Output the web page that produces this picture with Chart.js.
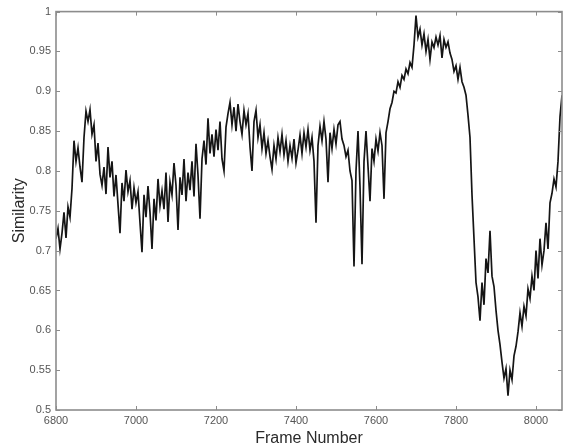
<!DOCTYPE html>
<html>
<head>
<meta charset="utf-8">
<script src="https://cdn.jsdelivr.net/npm/chart.js@4/dist/chart.umd.min.js"></script>
<style>
  html, body { margin: 0; padding: 0; background: #ffffff; }
  #wrap { width: 564px; height: 448px; }
</style>
</head>
<body>
<div id="wrap"><canvas id="c" width="564" height="448"></canvas></div>
<script>
// Sampling grid of the series (frame numbers)
const startFrame = 6800;
const frameStep = 5;

// Similarity values, one per sample
const similarity = [
  0.715,0.728,0.702,0.722,0.748,0.716,0.755,0.742,0.778,0.838,
  0.812,0.829,0.805,0.786,0.842,0.875,0.862,0.877,0.846,0.858,
  0.812,0.835,0.796,0.782,0.805,0.771,0.830,0.792,0.812,0.768,
  0.795,0.758,0.722,0.785,0.762,0.801,0.774,0.788,0.752,0.779,
  0.760,0.774,0.735,0.698,0.770,0.742,0.781,0.748,0.702,0.765,
  0.738,0.790,0.756,0.775,0.752,0.798,0.736,0.786,0.770,0.810,
  0.782,0.726,0.792,0.770,0.815,0.762,0.798,0.776,0.812,0.768,
  0.834,0.795,0.740,0.815,0.838,0.808,0.866,0.822,0.846,0.818,
  0.852,0.826,0.862,0.815,0.800,0.855,0.872,0.886,0.858,0.880,
  0.850,0.884,0.862,0.846,0.876,0.858,0.872,0.830,0.800,0.862,
  0.876,0.842,0.858,0.828,0.848,0.822,0.838,0.818,0.802,0.832,
  0.815,0.842,0.824,0.846,0.820,0.838,0.812,0.832,0.816,0.840,
  0.810,0.826,0.845,0.822,0.848,0.830,0.852,0.826,0.842,0.812,
  0.735,0.832,0.856,0.838,0.862,0.840,0.786,0.848,0.828,0.852,
  0.834,0.858,0.862,0.840,0.832,0.818,0.826,0.800,0.788,0.680,
  0.800,0.850,0.780,0.683,0.812,0.850,0.806,0.762,0.828,0.812,
  0.840,0.825,0.848,0.832,0.765,0.848,0.862,0.878,0.886,0.900,
  0.898,0.912,0.905,0.920,0.915,0.928,0.922,0.936,0.930,0.958,
  0.995,0.968,0.978,0.958,0.972,0.950,0.965,0.940,0.962,0.955,
  0.968,0.958,0.970,0.942,0.965,0.955,0.962,0.948,0.940,0.925,
  0.932,0.915,0.930,0.912,0.905,0.895,0.870,0.842,0.770,0.715,
  0.660,0.642,0.612,0.660,0.632,0.690,0.672,0.725,0.668,0.655,
  0.625,0.600,0.582,0.560,0.540,0.552,0.518,0.550,0.538,0.568,
  0.580,0.598,0.622,0.605,0.630,0.618,0.652,0.640,0.668,0.650,
  0.700,0.665,0.715,0.682,0.700,0.735,0.702,0.760,0.772,0.790,
  0.780,0.812,0.868,0.895
];

// Axis settings and labels
const xMin = 6800, xMax = 8065, xTickStep = 200;
const yMin = 0.5, yMax = 1, yTickStep = 0.05;
const xTitle = 'Frame Number';
const yTitle = 'Similarity';

const points = similarity.map((v, i) => ({ x: startFrame + i * frameStep, y: v }));

const boxColor = '#8c8c8c';

// Draw the MATLAB-style box and inward ticks using the chart's own scales
const boxPlugin = {
  id: 'boxTicks',
  afterDraw(chart) {
    const { ctx, chartArea: a, scales } = chart;
    const len = 4;
    ctx.save();
    ctx.strokeStyle = boxColor;
    ctx.lineWidth = 1;
    ctx.beginPath();
    scales.x.ticks.forEach(t => {
      const px = Math.round(scales.x.getPixelForValue(t.value)) + 0.5;
      ctx.moveTo(px, a.bottom); ctx.lineTo(px, a.bottom - len);
      ctx.moveTo(px, a.top); ctx.lineTo(px, a.top + len);
    });
    scales.y.ticks.forEach(t => {
      const py = Math.round(scales.y.getPixelForValue(t.value)) + 0.5;
      ctx.moveTo(a.left, py); ctx.lineTo(a.left + len, py);
      ctx.moveTo(a.right, py); ctx.lineTo(a.right - len, py);
    });
    ctx.stroke();
    ctx.lineWidth = 1.6;
    ctx.strokeRect(a.left, a.top, a.right - a.left, a.bottom - a.top);
    ctx.restore();
  }
};

new Chart(document.getElementById('c'), {
  type: 'line',
  data: {
    datasets: [{
      data: points,
      borderColor: '#151515',
      borderWidth: 1.7,
      pointRadius: 0,
      tension: 0,
      fill: false
    }]
  },
  options: {
    responsive: false,
    devicePixelRatio: 1,
    animation: false,
    layout: { padding: { top: 10, right: 2, left: 0, bottom: 0 } },
    plugins: { legend: { display: false }, tooltip: { enabled: false } },
    scales: {
      x: {
        type: 'linear',
        min: xMin, max: xMax,
        grid: { display: false, drawTicks: false },
        border: { display: false },
        ticks: {
          stepSize: xTickStep,
          includeBounds: false,
          maxRotation: 0,
          autoSkip: false,
          padding: 4,
          color: '#555',
          font: { family: 'Liberation Sans, Arial, sans-serif', size: 11 },
          callback: v => String(v)
        },
        afterBuildTicks: s => { s.ticks = s.ticks.filter(t => (t.value - xMin) % xTickStep === 0); },
        afterFit: s => { s.height = 38; },
        title: {
          display: true, text: xTitle, color: '#2a2a2a',
          font: { family: 'Liberation Sans, Arial, sans-serif', size: 16 },
          padding: { top: 0, bottom: 0 }
        }
      },
      y: {
        min: yMin, max: yMax,
        grid: { display: false, drawTicks: false },
        border: { display: false },
        ticks: {
          stepSize: yTickStep,
          autoSkip: false,
          padding: 5,
          color: '#555',
          font: { family: 'Liberation Sans, Arial, sans-serif', size: 11 },
          callback: v => String(Number(v.toFixed(2)))
        },
        afterFit: s => { s.width = 56; },
        title: {
          display: true, text: yTitle, color: '#2a2a2a',
          font: { family: 'Liberation Sans, Arial, sans-serif', size: 16 },
          padding: { top: 10, bottom: 0 }
        }
      }
    }
  },
  plugins: [boxPlugin]
});
</script>
</body>
</html>
